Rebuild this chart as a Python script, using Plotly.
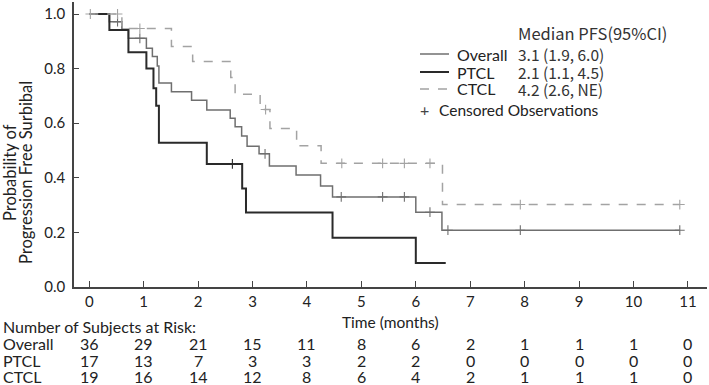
import plotly.graph_objects as go

# ---------------- data ----------------
overall_t = [0, 0.37, 0.60, 0.72, 1.05, 1.16, 1.25, 1.28, 1.51, 1.88, 2.16, 2.59, 2.68, 2.80, 2.90, 3.12, 3.31, 3.80, 4.25, 4.47, 6.00, 6.48, 10.85]
overall_s = [1.0, 0.972, 0.944, 0.911, 0.875, 0.844, 0.810, 0.747, 0.715, 0.684, 0.648, 0.618, 0.587, 0.553, 0.516, 0.488, 0.443, 0.410, 0.370, 0.330, 0.274, 0.208, 0.208]
overall_cens_t = [0.52, 0.93, 3.23, 4.63, 5.39, 5.79, 6.26, 6.59, 7.92, 10.85]
overall_cens_s = [0.972, 0.911, 0.488, 0.330, 0.330, 0.330, 0.274, 0.208, 0.208, 0.208]

ptcl_t = [0, 0.37, 0.72, 1.05, 1.18, 1.23, 1.28, 2.16, 2.81, 2.88, 4.47, 6.00, 6.55]
ptcl_s = [1.0, 0.941, 0.860, 0.800, 0.728, 0.664, 0.528, 0.451, 0.361, 0.273, 0.180, 0.088, 0.088]
ptcl_cens_t = [2.63]
ptcl_cens_s = [0.451]

ctcl_t = [0, 0.60, 1.51, 1.90, 2.60, 2.68, 3.14, 3.32, 3.81, 4.26, 6.49, 10.85]
ctcl_s = [1.0, 0.947, 0.881, 0.826, 0.767, 0.706, 0.650, 0.581, 0.517, 0.453, 0.302, 0.302]
ctcl_cens_t = [0.02, 0.52, 0.93, 3.24, 4.64, 5.39, 5.79, 6.26, 7.92, 10.85]
ctcl_cens_s = [1.0, 1.0, 0.947, 0.650, 0.453, 0.453, 0.453, 0.453, 0.302, 0.302]

risk_times = list(range(0, 12))
risk_overall = [36, 29, 21, 15, 11, 8, 6, 2, 1, 1, 1, 0]
risk_ptcl = [17, 13, 7, 3, 3, 2, 2, 0, 0, 0, 0, 0]
risk_ctcl = [19, 16, 14, 12, 8, 6, 4, 2, 1, 1, 1, 0]

groups = ["Overall", "PTCL", "CTCL"]
medians = ["3.1 (1.9, 6.0)", "2.1 (1.1, 4.5)", "4.2 (2.6, NE)"]
y_title_lines = ["Probability of", "Progression Free Surbibal"]

# ---------------- style ----------------
W, H = 709, 385
ML, MR, MT, MB = 74, 2, 2, 98
FONT = "Lato"
CJK = "Noto Sans CJK JP"
TXT = "#222222"
C_OVERALL = "#6f6f6f"
C_PTCL = "#2a2a2a"
C_CTCL = "#a3a3a3"

def py(p):
    """pixel y -> paper y"""
    return (H - MB - p) / (H - MT - MB)

def px(p):
    """pixel x -> paper x"""
    return (p - ML) / (W - ML - MR)

fig = go.Figure()

series = [
    (overall_t, overall_s, overall_cens_t, overall_cens_s, C_OVERALL, 1.5, "solid"),
    (ptcl_t, ptcl_s, ptcl_cens_t, ptcl_cens_s, C_PTCL, 2.0, "solid"),
    (ctcl_t, ctcl_s, ctcl_cens_t, ctcl_cens_s, C_CTCL, 1.5, "dash"),
]
for t, s, ct, cs, col, w, dash in series:
    fig.add_trace(go.Scatter(x=t, y=s, mode="lines", line=dict(color=col, width=w, dash=dash, shape="hv"),
                             showlegend=False, hoverinfo="skip", cliponaxis=False))
    fig.add_trace(go.Scatter(x=ct, y=cs, mode="markers",
                             marker=dict(symbol="cross-thin", size=7, line=dict(color=col, width=1.1)),
                             showlegend=False, hoverinfo="skip", cliponaxis=False))

fig.update_xaxes(range=[-0.28, 11.35], tickmode="array", tickvals=risk_times,
                 ticktext=[str(v) for v in risk_times], automargin=False,
                 showline=True, linecolor="#444", linewidth=1.5, ticks="inside", ticklen=6,
                 tickcolor="#444", tickwidth=1.2, showgrid=False, zeroline=False,
                 tickfont=dict(family=FONT, size=15, color=TXT))
fig.update_yaxes(range=[0, 1.044], tickmode="array", tickvals=[0, 0.2, 0.4, 0.6, 0.8, 1.0],
                 ticktext=["0.0", "0.2", "0.4", "0.6", "0.8", "1.0"], automargin=False,
                 showline=True, linecolor="#444", linewidth=1.5, ticks="inside", ticklen=5,
                 tickcolor="#444", tickwidth=1.2, showgrid=False, zeroline=False,
                 tickfont=dict(family=FONT, size=15, color=TXT), ticklabelstandoff=4)

ann = []
# y title (two lines, tight spacing)
for line, xc in zip(y_title_lines, [10, 26]):
    ann.append(dict(text=line, textangle=-90, x=px(xc), y=py(173),
                    xref="paper", yref="paper", showarrow=False, xanchor="center", yanchor="middle",
                    font=dict(family=FONT, size=16.5, color=TXT)))
# x title
ann.append(dict(text="Time (months)", x=px(390), y=py(322), xref="paper", yref="paper", showarrow=False,
                xanchor="center", yanchor="middle", font=dict(family=FONT, size=15.5, color=TXT)))

# legend block
ann.append(dict(text="Median PFS(95%CI)", x=px(516), y=py(33), xref="paper", yref="paper", showarrow=False,
                xanchor="left", yanchor="middle", font=dict(family=CJK, size=16.5, color="#333")))
leg_y = [54, 72, 89]
leg_cols = [C_OVERALL, C_PTCL, C_CTCL]
leg_w = [1.5, 2.0, 1.5]
leg_dash = ["solid", "solid", "dash"]
shapes = []
for g, m, yy, col, w, d in zip(groups, medians, leg_y, leg_cols, leg_w, leg_dash):
    shapes.append(dict(type="line", xref="paper", yref="paper", x0=px(420), x1=px(449), y0=py(yy), y1=py(yy),
                       line=dict(color=col, width=w, dash="dash" if d == "dash" else "solid")))
    ann.append(dict(text=g, x=px(455), y=py(yy), xref="paper", yref="paper", showarrow=False,
                    xanchor="left", yanchor="middle", font=dict(family=FONT, size=16, color=TXT)))
    ann.append(dict(text=m, x=px(516), y=py(yy), xref="paper", yref="paper", showarrow=False,
                    xanchor="left", yanchor="middle", font=dict(family=CJK, size=15.5, color="#333")))
ann.append(dict(text="+", x=px(424), y=py(110), xref="paper", yref="paper", showarrow=False,
                xanchor="center", yanchor="middle", font=dict(family=FONT, size=16, color="#444")))
ann.append(dict(text="Censored Observations", x=px(437), y=py(110), xref="paper", yref="paper", showarrow=False,
                xanchor="left", yanchor="middle", font=dict(family=FONT, size=15.5, color=TXT)))

# risk table
ann.append(dict(text="Number of Subjects at Risk:", x=px(1), y=py(326), xref="paper", yref="paper",
                showarrow=False, xanchor="left", yanchor="middle", font=dict(family=FONT, size=16, color=TXT)))
row_y = [343, 360, 376]
for g, vals, yy in zip(groups, [risk_overall, risk_ptcl, risk_ctcl], row_y):
    ann.append(dict(text=g, x=px(1), y=py(yy), xref="paper", yref="paper", showarrow=False,
                    xanchor="left", yanchor="middle", font=dict(family=FONT, size=16, color=TXT)))
    for tt, v in zip(risk_times, vals):
        ann.append(dict(text=str(v), x=tt, y=py(yy), xref="x", yref="paper", showarrow=False,
                        xanchor="center", yanchor="middle", font=dict(family=FONT, size=16, color=TXT)))

fig.update_layout(width=W, height=H, margin=dict(l=ML, r=MR, t=MT, b=MB, autoexpand=False),
                  paper_bgcolor="white", plot_bgcolor="white", annotations=ann, shapes=shapes,
                  showlegend=False)

fig.write_html("out.html", config={"displayModeBar": False},
               post_script="document.body.style.margin='0px';document.body.style.padding='0px';")
